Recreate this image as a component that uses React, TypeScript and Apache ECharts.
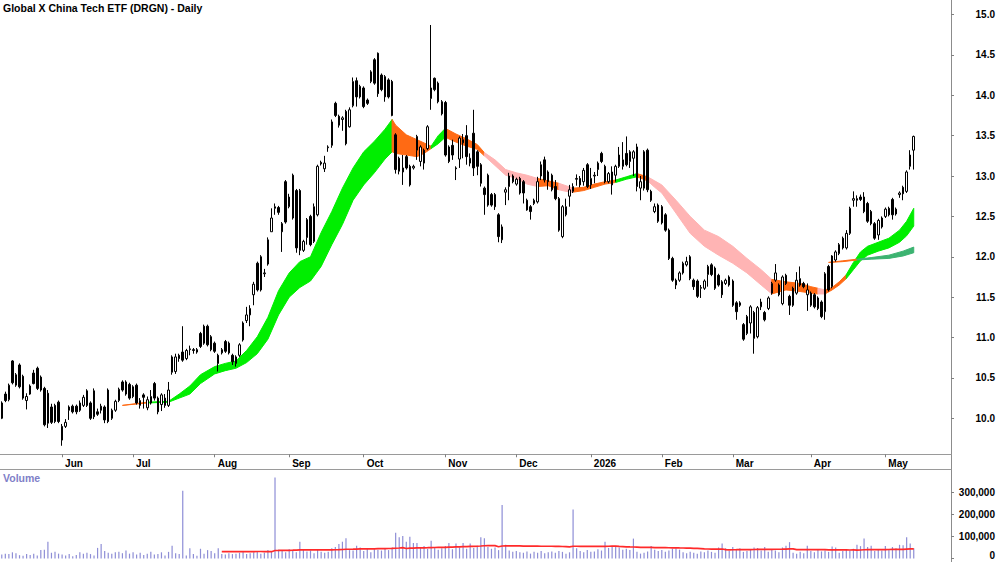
import React, { useEffect, useRef } from 'react';
import * as echarts from 'echarts';

const TITLE = 'Global X China Tech ETF (DRGN) - Daily';
const FONT = '"Liberation Sans", Arial, Helvetica, sans-serif';

// x axis: trading-day slots (258 candles + empty slots up to the price axis)
const SLOT_COUNT = 268;
const monthLabels = ['Jun', 'Jul', 'Aug', 'Sep', 'Oct', 'Nov', 'Dec', '2026', 'Feb', 'Mar', 'Apr', 'May'];
const monthStartIdx = [17, 37, 60, 81, 102, 125, 145, 166, 186, 206, 228, 249];

// [open, close, low, high]
const candles: number[][] = [
  [10.00,10.19,9.99,10.21],[10.30,10.22,10.20,10.33],[10.23,10.41,10.21,10.43],[10.71,10.44,10.42,10.72],
  [10.41,10.54,10.39,10.56],[10.66,10.39,10.37,10.68],[10.52,10.25,10.23,10.54],[10.22,10.27,10.11,10.31],
  [10.30,10.40,10.29,10.42],[10.56,10.43,10.42,10.60],[10.62,10.37,10.35,10.64],[10.51,10.35,10.33,10.53],
  [10.37,9.92,9.90,10.39],[10.31,9.94,9.88,10.35],[10.14,9.95,9.93,10.18],[10.16,9.96,9.94,10.18],
  [10.20,9.96,9.94,10.22],[9.90,9.73,9.66,9.93],[9.90,9.95,9.88,9.99],[10.14,10.10,9.98,10.16],
  [10.15,10.08,10.06,10.17],[10.15,10.08,10.05,10.17],[10.19,10.10,10.08,10.22],[10.16,10.26,10.14,10.29],
  [10.34,10.16,10.14,10.36],[10.19,10.00,9.98,10.21],[10.34,10.02,9.99,10.37],[10.08,10.05,10.03,10.12],
  [10.15,10.10,10.06,10.18],[10.14,9.98,9.94,10.16],[10.35,9.96,9.94,10.37],[10.00,10.10,9.98,10.12],
  [10.10,10.21,10.08,10.23],[10.22,10.36,10.20,10.38],[10.45,10.35,10.33,10.47],[10.45,10.30,10.28,10.47],
  [10.42,10.25,10.23,10.44],[10.39,10.27,10.25,10.41],[10.41,10.19,10.17,10.43],[10.16,10.22,10.12,10.25],
  [10.29,10.26,10.12,10.31],[10.13,10.23,10.10,10.27],[10.19,10.27,10.17,10.35],[10.43,10.25,10.22,10.45],
  [10.25,10.08,10.05,10.27],[10.17,10.29,10.09,10.31],[10.25,10.16,10.13,10.30],[10.16,10.35,10.14,10.45],
  [10.57,10.76,10.54,10.78],[10.58,10.76,10.55,10.80],[10.78,10.74,10.70,10.80],[10.82,10.72,10.70,11.14],
  [10.74,10.84,10.72,10.86],[10.85,10.86,10.78,10.90],[10.85,10.84,10.80,10.87],[10.85,10.82,10.80,10.87],
  [11.05,10.89,10.87,11.07],[11.14,10.93,10.91,11.16],[11.14,10.91,10.89,11.16],[11.01,10.85,10.83,11.03],
  [10.93,10.83,10.81,10.95],[10.78,10.68,10.58,10.80],[10.81,10.85,10.79,10.87],[10.95,10.83,10.81,10.97],
  [10.93,10.81,10.79,10.95],[10.78,10.70,10.66,10.80],[10.76,10.68,10.64,10.78],[10.78,10.91,10.76,10.93],
  [10.97,11.18,10.95,11.20],[11.21,11.28,11.18,11.38],[11.28,11.36,11.14,11.40],[11.53,11.66,11.40,11.69],
  [11.92,11.59,11.57,11.94],[12.00,11.59,11.57,12.02],[11.79,11.80,11.75,11.85],[11.91,12.21,11.89,12.24],
  [12.31,12.48,12.31,12.60],[12.60,12.62,12.52,12.66],[12.61,12.55,12.52,12.63],[12.41,12.31,12.06,12.43],
  [12.93,12.43,12.41,12.95],[12.62,12.74,12.60,12.78],[13.01,12.48,12.46,13.03],[12.82,12.11,12.05,12.84],
  [12.82,12.08,12.02,12.84],[12.08,12.19,12.06,12.21],[12.46,12.24,12.15,12.48],[12.50,12.15,12.13,12.52],
  [12.19,12.62,12.17,12.66],[12.52,13.12,12.50,13.14],[13.17,13.15,13.13,13.19],[13.09,13.16,13.05,13.25],
  [13.35,13.36,13.30,13.38],[13.38,13.67,13.35,13.70],[13.90,13.75,13.73,13.92],[13.74,13.63,13.60,13.76],
  [13.70,13.72,13.56,13.74],[13.80,13.40,13.38,13.82],[13.61,13.82,13.60,13.85],[13.87,14.17,13.85,14.22],
  [14.18,13.98,13.86,14.22],[14.11,13.98,13.96,14.13],[14.09,13.86,13.84,14.11],[13.94,13.90,13.88,13.96],
  [14.17,14.29,14.15,14.31],[14.44,14.15,14.13,14.46],[14.52,14.02,13.98,14.53],[14.25,14.07,14.05,14.27],
  [14.23,13.98,13.92,14.25],[14.19,13.98,13.96,14.21],[14.17,13.75,13.74,14.19],[13.51,13.08,13.03,13.53],
  [13.22,13.06,13.02,13.24],[13.05,13.10,12.89,13.26],[13.24,13.10,13.08,13.26],[13.12,12.89,12.87,13.14],
  [13.10,13.12,13.08,13.14],[13.32,13.49,13.20,13.51],[13.18,13.36,13.12,13.38],[13.32,13.16,13.08,13.34],
  [13.34,13.61,13.32,13.63],[13.96,14.09,13.82,14.87],[14.21,14.07,14.05,14.22],[14.15,13.92,13.90,14.17],
  [13.92,13.77,13.75,13.94],[13.91,13.26,13.24,13.93],[13.36,13.18,13.16,13.38],[13.38,13.26,13.20,13.45],
  [13.10,13.09,12.95,13.12],[13.21,13.47,13.10,13.49],[13.41,13.45,13.22,13.52],[13.50,13.24,13.14,13.63],
  [13.16,13.22,13.12,13.28],[13.53,13.10,13.00,13.82],[13.30,13.12,13.01,13.32],[13.14,12.91,12.87,13.16],
  [12.85,12.77,12.52,12.87],[13.01,12.64,12.62,13.03],[12.77,12.64,12.62,12.79],[12.77,12.62,12.58,12.79],
  [12.52,12.25,12.18,12.54],[12.21,12.37,12.17,12.40],[12.80,12.83,12.64,12.86],[12.87,13.00,12.70,13.04],
  [13.00,12.93,12.91,13.02],[12.90,12.96,12.88,12.98],[12.97,12.79,12.77,12.99],[12.93,12.79,12.66,12.95],
  [12.70,12.58,12.57,12.72],[12.62,12.56,12.46,12.64],[12.66,12.70,12.64,12.72],[12.68,12.93,12.66,12.99],
  [13.00,13.14,12.95,13.18],[13.20,12.95,12.92,13.24],[13.05,12.93,12.83,13.07],[13.01,12.83,12.81,13.03],
  [12.87,12.72,12.70,12.95],[12.72,12.33,12.31,12.74],[12.25,12.62,12.23,12.64],[12.52,12.62,12.50,12.72],
  [12.75,12.83,12.62,12.89],[12.81,12.87,12.79,12.91],[12.96,12.97,12.88,13.02],[12.97,12.89,12.86,13.00],
  [12.93,13.07,12.88,13.10],[13.14,12.87,12.85,13.16],[12.89,12.97,12.84,13.10],[13.00,13.01,12.91,13.05],
  [13.08,13.16,13.00,13.18],[13.28,13.18,13.16,13.30],[13.12,12.93,12.91,13.14],[12.93,13.03,12.91,13.05],
  [13.05,12.89,12.77,13.12],[13.01,13.12,12.93,13.14],[13.12,13.26,13.10,13.36],[13.12,13.20,13.08,13.42],
  [13.28,13.14,13.12,13.49],[13.18,13.30,13.10,13.32],[13.22,13.30,13.00,13.32],[13.36,12.87,12.81,13.40],
  [12.85,12.93,12.70,13.00],[13.30,12.85,12.82,13.32],[13.32,12.83,12.80,13.34],[12.81,12.70,12.68,12.83],
  [12.56,12.62,12.54,12.66],[12.64,12.44,12.42,12.66],[12.62,12.42,12.40,12.64],[12.52,12.33,12.31,12.54],
  [12.33,11.98,11.96,12.35],[11.98,11.71,11.69,12.00],[11.71,11.65,11.60,11.73],[11.71,11.80,11.69,11.82],
  [11.80,11.92,11.78,11.94],[11.90,11.94,11.88,12.00],[12.00,11.73,11.71,12.02],[11.71,11.63,11.59,11.73],
  [11.70,11.51,11.49,11.72],[11.61,11.62,11.49,11.65],[11.61,11.70,11.59,11.72],[11.78,11.88,11.63,11.90],
  [11.90,11.78,11.76,11.92],[11.86,11.61,11.59,11.88],[11.77,11.65,11.63,11.79],[11.69,11.53,11.49,11.71],
  [11.67,11.71,11.65,11.73],[11.75,11.65,11.63,11.77],[11.70,11.40,11.38,11.72],[11.43,11.32,11.22,11.45],
  [11.43,11.40,11.38,11.45],[11.16,10.98,10.96,11.18],[11.05,11.26,11.03,11.28],[11.18,11.38,11.05,11.40],
  [11.31,10.99,10.80,11.33],[11.01,11.37,10.99,11.39],[11.38,11.44,11.34,11.48],[11.31,11.22,11.20,11.33],
  [11.36,11.49,11.34,11.51],[11.55,11.67,11.53,11.69],[11.71,11.80,11.69,11.91],[11.65,11.53,11.51,11.67],
  [11.42,11.75,11.40,11.77],[11.77,11.67,11.65,11.79],[11.51,11.40,11.28,11.53],[11.61,11.40,11.38,11.63],
  [11.55,11.71,11.53,11.81],[11.65,11.73,11.63,11.88],[11.67,11.63,11.61,11.69],[11.53,11.59,11.33,11.67],
  [11.55,11.40,11.38,11.57],[11.53,11.38,11.36,11.55],[11.49,11.36,11.34,11.51],[11.44,11.26,11.24,11.46],
  [11.32,11.79,11.22,11.81],[11.88,11.59,11.57,11.90],[11.63,12.01,11.61,12.02],[11.96,12.06,11.94,12.08],
  [12.04,12.15,12.02,12.17],[12.23,12.11,12.09,12.25],[12.11,12.29,12.09,12.33],[12.29,12.60,12.27,12.62],
  [12.70,12.72,12.62,12.81],[12.72,12.70,12.62,12.76],[12.74,12.71,12.69,12.77],[12.74,12.56,12.54,12.80],
  [12.66,12.44,12.42,12.68],[12.56,12.41,12.39,12.58],[12.41,12.23,12.21,12.43],[12.27,12.45,12.21,12.47],
  [12.48,12.37,12.35,12.50],[12.50,12.59,12.48,12.61],[12.60,12.52,12.50,12.62],[12.71,12.52,12.46,12.73],
  [12.59,12.53,12.51,12.61],[12.77,12.79,12.73,12.81],[12.86,12.78,12.70,12.88],[12.81,13.05,12.79,13.07],
  [13.12,13.26,13.08,13.32],[13.32,13.49,13.08,13.50],
];

// daily volume, thousands of shares
const volumeK = [
  18,22,20,28,24,15,12,20,16,22,14,38,40,76,26,30,22,18,14,20,
  10,16,28,22,26,20,14,48,66,34,26,22,28,30,24,36,22,28,18,26,
  16,22,30,18,20,28,14,30,58,24,20,307,14,46,20,12,44,22,38,34,
  24,46,20,18,24,20,22,26,30,20,24,28,30,22,26,38,30,367,40,38,
  28,42,36,28,76,40,32,36,24,40,30,26,30,46,52,66,76,92,38,36,
  58,50,34,44,28,42,40,36,44,38,50,116,96,102,76,98,70,70,48,56,
  44,80,52,40,46,56,70,42,68,50,70,44,68,48,58,96,92,52,44,50,
  38,242,62,36,30,34,28,26,32,22,30,26,34,24,28,32,26,34,30,22,
  28,222,46,34,28,38,30,32,42,36,76,48,56,54,50,40,44,38,90,30,
  22,26,32,56,40,34,38,30,36,44,46,40,28,24,30,26,22,32,28,36,
  30,26,50,68,46,34,52,38,46,30,34,40,50,48,36,52,30,42,36,28,
  50,58,74,26,22,30,24,58,34,28,40,32,36,30,54,50,26,34,40,36,
  44,62,56,90,52,58,34,42,36,56,40,52,46,62,60,96,68,46,
];
const VOLUME_MA_PERIOD = 63;

// trend ribbon: slot index, upper edge, lower edge
const ribbonIdx = [34,41,47,50,53,56,60,63,66,69,72,75,78,81,84,87,90,93,96,99,102,105,108,110,111,114,117,119,121,123,125,128,131,134,136,139,142,145,148,151,154,157,159,161,164,167,170,173,176,179,182,184,186,190,194,198,202,206,210,214,217,221,225,228,230,232,234,236,238,240,242,244,247,250,253,255,257];
const ribbonTop = [10.16,10.20,10.21,10.30,10.40,10.54,10.64,10.68,10.71,10.84,11.01,11.25,11.58,11.80,11.94,12.00,12.30,12.56,12.85,13.10,13.30,13.43,13.58,13.70,13.63,13.51,13.45,13.41,13.37,13.50,13.59,13.52,13.46,13.39,13.29,13.20,13.08,13.04,13.01,12.97,12.94,12.91,12.88,12.85,12.86,12.90,12.93,12.95,12.99,13.03,12.99,12.94,12.89,12.70,12.50,12.33,12.25,12.13,11.98,11.84,11.72,11.69,11.67,11.63,11.61,11.59,11.62,11.69,11.78,11.93,12.06,12.13,12.18,12.23,12.33,12.44,12.60];
const ribbonBot = [10.16,10.19,10.20,10.25,10.30,10.43,10.55,10.59,10.62,10.69,10.80,10.98,11.28,11.50,11.62,11.70,11.88,12.15,12.40,12.70,12.89,13.04,13.21,13.30,13.28,13.26,13.24,13.28,13.34,13.40,13.48,13.42,13.37,13.33,13.25,13.13,13.01,12.97,12.90,12.87,12.88,12.83,12.81,12.80,12.82,12.86,12.90,12.92,12.96,12.99,12.94,12.86,12.79,12.54,12.29,12.13,12.02,11.92,11.80,11.65,11.54,11.59,11.57,11.55,11.54,11.54,11.59,11.65,11.73,11.84,11.95,12.02,12.07,12.11,12.18,12.26,12.38];
const ribbonSegments = [
  { from: 34, to: 41, trend: 'flat' },
  { from: 41, to: 110, trend: 'up' },
  { from: 110, to: 121, trend: 'flat' },
  { from: 121, to: 125, trend: 'up' },
  { from: 125, to: 136, trend: 'flat' },
  { from: 136, to: 151, trend: 'down' },
  { from: 151, to: 157, trend: 'flat' },
  { from: 157, to: 161, trend: 'down' },
  { from: 161, to: 173, trend: 'flat' },
  { from: 173, to: 179, trend: 'up' },
  { from: 179, to: 182, trend: 'flat' },
  { from: 182, to: 217, trend: 'down' },
  { from: 217, to: 230, trend: 'flat' },
  { from: 230, to: 232, trend: 'down' },
  { from: 232, to: 238, trend: 'flat' },
  { from: 238, to: 257, trend: 'up' },
];

// long-term ribbon
const longIdx = [233, 237, 241, 245, 250, 254, 257];
const longTop = [11.93, 11.95, 11.97, 11.99, 12.02, 12.07, 12.12];
const longBot = [11.93, 11.94, 11.96, 11.97, 11.98, 12.01, 12.05];
const longSegments = [
  { from: 233, to: 241, trend: 'flat' },
  { from: 241, to: 257, trend: 'longUp' },
];

const trendColor: Record<string, string> = {
  up: '#00ee00',
  flat: '#ff6a14',
  down: '#ffb4b4',
  longUp: '#3cb371',
};

function withCommas(v: number): string {
  const s = String(Math.round(v));
  return s.replace(/\B(?=(\d{3})+(?!\d))/g, ',');
}

function ribbonSeries(idx: number[], top: number[], bot: number[], segs: any[]) {
  return {
    type: 'custom',
    xAxisIndex: 0,
    yAxisIndex: 0,
    z: 1,
    silent: true,
    clip: false,
    data: segs.map((s) => [s.from, top[idx.indexOf(s.from)]]),
    renderItem: (params: any, api: any) => {
      const s = segs[params.dataIndex];
      const ks: number[] = [];
      idx.forEach((v, k) => {
        if (v >= s.from && v <= s.to) ks.push(k);
      });
      const upper = ks.map((k) => api.coord([idx[k], top[k]]));
      const lower = ks.slice().reverse().map((k) => api.coord([idx[k], bot[k]]));
      const color = trendColor[s.trend];
      return {
        type: 'polygon',
        shape: { points: upper.concat(lower) },
        style: { fill: color, stroke: color, lineWidth: 1 },
      };
    },
  };
}

export default function App() {
  const ref = useRef<HTMLDivElement>(null);

  useEffect(() => {
    document.body.style.margin = '0';
    if (!ref.current) return;
    const chart = echarts.init(ref.current, undefined, { renderer: 'svg' });

    const slots = Array.from({ length: SLOT_COUNT }, (_, i) => String(i));
    const volumes = volumeK.map((v) => v * 1000);
    const volMA = volumes.map((_, i) => {
      if (i < VOLUME_MA_PERIOD - 1) return null;
      let sum = 0;
      for (let k = i - VOLUME_MA_PERIOD + 1; k <= i; k++) sum += volumes[k];
      return sum / VOLUME_MA_PERIOD;
    });

    const isMonthStart = (i: number) => monthStartIdx.indexOf(i) >= 0;
    const labelStyle = { color: '#000', fontWeight: 'bold', fontSize: 10, fontFamily: FONT };

    const option: any = {
      animation: false,
      backgroundColor: '#ffffff',
      grid: [
        { left: 0, top: -25.88, width: 951, height: 484.56, containLabel: false, outerBoundsMode: 'none' },
        { left: 0, top: 470.1, width: 951, height: 88.4, containLabel: false, outerBoundsMode: 'none' },
      ],
      xAxis: [
        {
          type: 'category',
          gridIndex: 0,
          data: slots,
          boundaryGap: true,
          offset: -4.4,
          axisLine: { show: false },
          axisTick: {
            show: true,
            alignWithLabel: true,
            length: 3,
            interval: (i: number) => isMonthStart(i),
            lineStyle: { color: '#808080', width: 1 },
          },
          axisLabel: {
            show: true,
            interval: (i: number) => isMonthStart(i),
            formatter: (_v: string, i: number) => {
              const k = monthStartIdx.indexOf(i);
              return k >= 0 ? monthLabels[k] : '';
            },
            align: 'left',
            padding: [0, 0, 0, 3],
            margin: 4,
            ...labelStyle,
          },
          splitLine: { show: false },
        },
        {
          type: 'category',
          gridIndex: 1,
          data: slots,
          boundaryGap: true,
          show: false,
        },
      ],
      yAxis: [
        {
          type: 'value',
          gridIndex: 0,
          position: 'right',
          min: 9.5,
          max: 15.5,
          interval: 0.5,
          axisLine: { show: false },
          axisTick: { show: true, length: 3, lineStyle: { color: '#808080' } },
          axisLabel: {
            showMinLabel: false,
            showMaxLabel: false,
            formatter: (v: number) => v.toFixed(1),
            align: 'right',
            margin: 44,
            ...labelStyle,
          },
          splitLine: { show: false },
        },
        {
          type: 'value',
          gridIndex: 1,
          position: 'right',
          min: 0,
          max: 400000,
          interval: 100000,
          axisLine: { show: false },
          axisTick: { show: true, length: 3, lineStyle: { color: '#808080' } },
          axisLabel: {
            showMaxLabel: false,
            formatter: (v: number) => (v === 0 ? '{zero|0}' : withCommas(v)),
            align: 'right',
            margin: 44,
            rich: {
              zero: { ...labelStyle, padding: [0, 0, 7, 0] },
            },
            ...labelStyle,
          },
          splitLine: { show: false },
        },
      ],
      series: [
        ribbonSeries(ribbonIdx, ribbonTop, ribbonBot, ribbonSegments),
        ribbonSeries(longIdx, longTop, longBot, longSegments),
        {
          type: 'candlestick',
          xAxisIndex: 0,
          yAxisIndex: 0,
          z: 3,
          barWidth: 2,
          data: candles,
          itemStyle: {
            color: '#ffffff',
            color0: '#000000',
            borderColor: '#000000',
            borderColor0: '#000000',
            borderColorDoji: '#000000',
            borderWidth: 1,
          },
        },
        {
          type: 'bar',
          xAxisIndex: 1,
          yAxisIndex: 1,
          barWidth: 1.2,
          data: volumes,
          itemStyle: { color: '#8e8ed6' },
          z: 2,
        },
        {
          type: 'line',
          xAxisIndex: 1,
          yAxisIndex: 1,
          data: volMA,
          symbol: 'none',
          lineStyle: { color: '#ff2a2a', width: 1.7 },
          z: 3,
        },
      ],
      graphic: [
        {
          type: 'text',
          left: 3,
          top: 2,
          style: { text: TITLE, fill: '#000', fontSize: 10.5, fontWeight: 'bold', fontFamily: FONT },
        },
        {
          type: 'text',
          left: 3,
          top: 472,
          style: { text: 'Volume', fill: '#8080c8', fontSize: 10.5, fontWeight: 'bold', fontFamily: FONT },
        },
        {
          type: 'line',
          shape: { x1: 951.5, y1: 0, x2: 951.5, y2: 562 },
          style: { stroke: '#8c8c8c', lineWidth: 1 },
        },
        {
          type: 'line',
          shape: { x1: 0, y1: 454.5, x2: 951.5, y2: 454.5 },
          style: { stroke: '#9a9a9a', lineWidth: 1 },
        },
        {
          type: 'line',
          shape: { x1: 0, y1: 469.5, x2: 951.5, y2: 469.5 },
          style: { stroke: '#9a9a9a', lineWidth: 1 },
        },
      ],
    };

    chart.setOption(option);
    return () => chart.dispose();
  }, []);

  return (
    <div
      ref={ref}
      style={{ position: 'absolute', left: 0, top: 0, width: 1000, height: 562, background: '#fff' }}
    />
  );
}
